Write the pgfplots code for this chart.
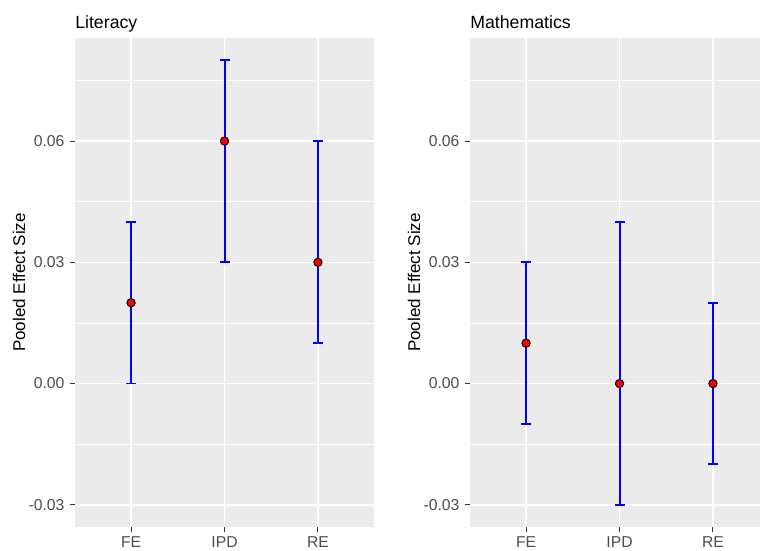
\documentclass[border=0pt]{standalone}
\usepackage{fontspec}
\setmainfont{Liberation Sans}
\usepackage{pgfplots}
\pgfplotsset{compat=1.18}
\definecolor{panelbg}{HTML}{EBEBEB}
\definecolor{ticktext}{HTML}{4D4D4D}
\definecolor{tickcol}{HTML}{333333}
\pgfplotsset{
  ggp/.style={
    scale only axis, width=224.25pt, height=366.75pt,
    anchor=south west,
    xmin=0.4, xmax=3.6, ymin=-0.0355, ymax=0.0855,
    xtick={1,2,3}, xticklabels={FE,IPD,RE},
    ytick={-0.03,0,0.03,0.06}, yticklabels={-0.03,0.00,0.03,0.06},
    scaled y ticks=false,
    minor ytick={-0.015,0.015,0.045,0.075},
    axis background/.style={fill=panelbg},
    axis line style={draw=none},
    tick pos=left, tick align=outside,
    major tick length=3.4pt, minor tick length=0pt,
    tick style={tickcol, line width=0.8pt},
    xmajorgrids, ymajorgrids, yminorgrids,
    major grid style={white, line width=1.1pt},
    minor grid style={white, line width=0.6pt},
    ticklabel style={font=\fontsize{11.8}{14}\selectfont, text=ticktext},
    yticklabel style={xshift=-1pt},
    clip=false,
  },
  ebar/.style={draw=blue, line width=1.5pt, mark=-, mark size=3.75pt,
    mark options={solid, draw=blue, line width=1.3pt}},
  pt/.style={only marks, mark=*, mark size=3.1pt,
    mark options={fill=red, draw=black, line width=0.75pt}},
}
\begin{document}
\begin{tikzpicture}
\path[use as bounding box, clip] (0,0) rectangle (570pt,412.5pt);
\fill[white] (0,0) rectangle (570pt,412.5pt);
\begin{axis}[ggp, at={(56.25pt,17.25pt)}]
\addplot[ebar] coordinates {(1,0.00) (1,0.04)};
\addplot[ebar] coordinates {(2,0.03) (2,0.08)};
\addplot[ebar] coordinates {(3,0.01) (3,0.06)};
\addplot[pt] table[x=x, y=y] {
x y
1 0.02
2 0.06
3 0.03
};
\end{axis}
\begin{axis}[ggp, at={(352.5pt,17.25pt)}]
\addplot[ebar] coordinates {(1,-0.01) (1,0.03)};
\addplot[ebar] coordinates {(2,-0.03) (2,0.04)};
\addplot[ebar] coordinates {(3,-0.02) (3,0.02)};
\addplot[pt] table[x=x, y=y] {
x y
1 0.01
2 0.00
3 0.00
};
\end{axis}
\node[anchor=base west, inner sep=0pt, font=\fontsize{13.3}{16}\selectfont] at (56.25pt,390.75pt) {Literacy};
\node[anchor=base west, inner sep=0pt, font=\fontsize{13.3}{16}\selectfont] at (352.5pt,390.75pt) {Mathematics};
\node[rotate=90, anchor=base, inner sep=0pt, font=\fontsize{12.75}{15}\selectfont] at (18.75pt,200.6pt) {Pooled Effect Size};
\node[rotate=90, anchor=base, inner sep=0pt, font=\fontsize{12.75}{15}\selectfont] at (315pt,200.6pt) {Pooled Effect Size};
\end{tikzpicture}
\end{document}
